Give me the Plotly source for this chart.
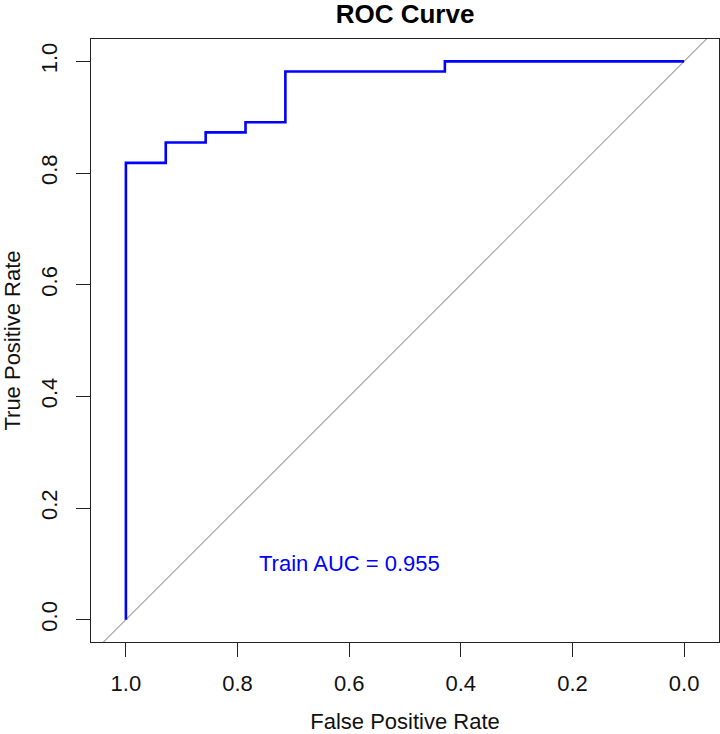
import plotly.graph_objects as go

# ROC curve data (specificity shown on reversed x-axis, labelled as FPR)
specificity = [1.0, 1.0, 0.9286, 0.8571, 0.7857, 0.7143, 0.4286, 0.0]
sensitivity = [0.0, 0.8182, 0.8545, 0.8727, 0.8909, 0.9818, 1.0, 1.0]

# chance diagonal (sens = 1 - spec), extended past the plot box and clipped
diag_x = [1.2, -0.2]
diag_y = [-0.2, 1.2]

tick_vals = [0.0, 0.2, 0.4, 0.6, 0.8, 1.0]
tick_text = ["0.0", "0.2", "0.4", "0.6", "0.8", "1.0"]

auc_label = "Train AUC = 0.955"
auc_pos = (0.6, 0.1)

FONT = "Liberation Sans, Arial, Helvetica, sans-serif"

fig = go.Figure()
fig.add_trace(go.Scatter(x=diag_x, y=diag_y, mode="lines",
                         line=dict(color="#a6a6a6", width=1.2),
                         hoverinfo="skip", showlegend=False))
fig.add_trace(go.Scatter(x=specificity, y=sensitivity, mode="lines",
                         line=dict(color="#0000ff", width=2.6, shape="hv"),
                         showlegend=False))

fig.add_annotation(x=auc_pos[0], y=auc_pos[1], text=auc_label,
                   showarrow=False, xanchor="center", yanchor="middle",
                   font=dict(family=FONT, size=22, color="#0000ff"))

axis_common = dict(
    showline=True, mirror=True, linecolor="#222222", linewidth=1.2,
    ticks="outside", ticklen=14, tickwidth=1.2, tickcolor="#222222",
    showgrid=False, zeroline=False, automargin=False,
    tickvals=tick_vals, ticktext=tick_text,
    tickfont=dict(family=FONT, size=22, color="#111111"),
)

fig.update_xaxes(range=[1.0625, -0.0625], ticklabelstandoff=7,
                 title=dict(text="False Positive Rate", standoff=30,
                            font=dict(family=FONT, size=22, color="#111111")),
                 **axis_common)
fig.update_yaxes(range=[-0.04, 1.04], tickangle=-90, ticklabelstandoff=10,
                 title=dict(text="True Positive Rate", standoff=19,
                            font=dict(family=FONT, size=22, color="#111111")),
                 **axis_common)

fig.update_layout(
    width=720, height=734,
    margin=dict(l=91, r=1, t=39, b=92, autoexpand=False),
    paper_bgcolor="white", plot_bgcolor="white",
    title=dict(text="<b>ROC Curve</b>", x=(91 + 719) / 2 / 720, xanchor="center",
               y=1 - 5 / 734, yanchor="top", yref="container", automargin=False,
               font=dict(family=FONT, size=26, color="#000000")),
)

fig.write_html(
    "out.html",
    config={"displayModeBar": False},
    post_script="document.body.style.margin='0';document.body.style.padding='0';"
                "document.body.style.overflow='hidden';"
                "document.documentElement.style.overflow='hidden';",
)
